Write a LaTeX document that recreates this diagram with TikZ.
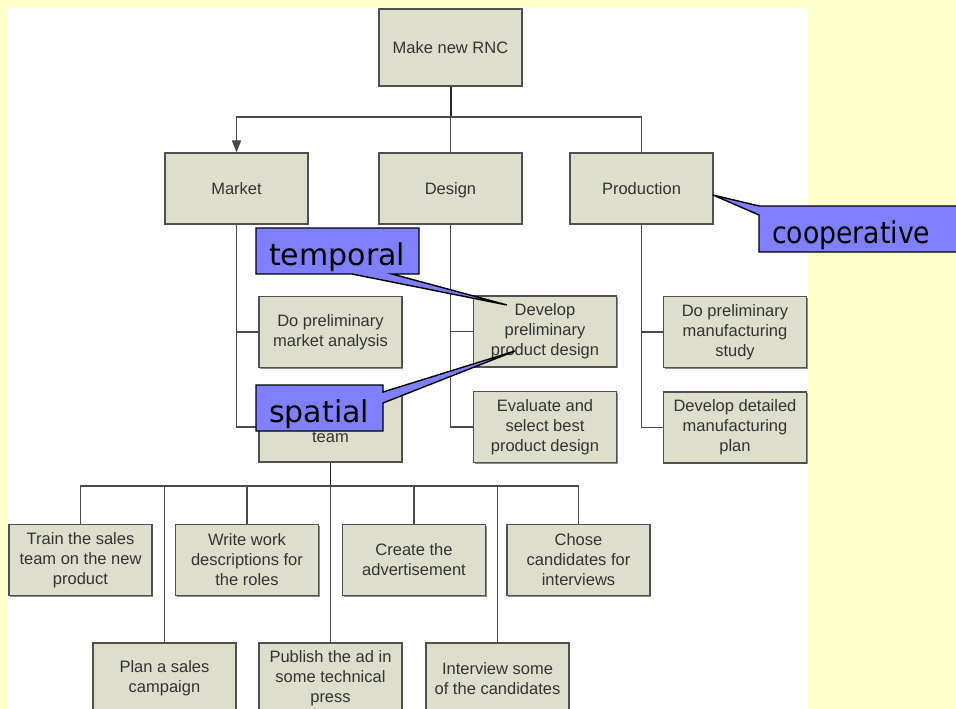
\documentclass[tikz,border=0pt]{standalone}
\usepackage{fontspec}
\usepackage{graphicx}
\setmainfont{Liberation Sans}
\newfontfamily\calloutfont{DejaVu Sans}
\usetikzlibrary{arrows.meta,shadows}

\definecolor{pagebg}{HTML}{FFFFCC}
\definecolor{boxfill}{HTML}{DDDECC}
\definecolor{boxline}{HTML}{505050}
\definecolor{boxtext}{HTML}{333333}
\definecolor{wirecol}{HTML}{4A4A4A}
\definecolor{callfill}{HTML}{8080FF}

\begin{document}
\begin{tikzpicture}[x=1pt,y=-1pt,
  task/.style={draw=boxline, line width=1.1pt, fill=boxfill,
    minimum width=143pt, minimum height=71pt, inner sep=0pt,
    align=center, text=boxtext, font=\fontsize{16.5}{20}\selectfont,
    drop shadow={shadow xshift=1.2pt, shadow yshift=-1.2pt, fill=black!45, opacity=1}},
  wire/.style={draw=wirecol, line width=1.5pt},
  trunk/.style={draw=black!85, line width=2pt},
  callout/.style={draw=black, line width=1.4pt, fill=callfill, line join=miter},
  calltext/.style={font=\calloutfont\fontsize{30}{36}\selectfont,
    anchor=base west, inner sep=0pt, text=black}]

% page and white sheet
\useasboundingbox (0,0) rectangle (956,709);
\fill[pagebg] (0,0) rectangle (956,709);
\fill[white] (8,8) rectangle (808,712);

% top levels
\node[task, minimum height=77pt] (root) at (450.5,47.5) {Make new RNC};
\node[task] (market) at (236.5,188.5) {Market};
\node[task, text depth=0pt] (design) at (450.5,188.5) {Design};
\node[task] (production) at (641.5,188.5) {Production};

% work packages
\node[task] (mkt1) at (330.5,332) {Do preliminary\\market analysis};
\node[task, minimum height=70pt] (team) at (330.5,427) {};
\node[text=boxtext, font=\fontsize{16.5}{20}\selectfont, anchor=base] (teamtxt) at (330.5,442) {team};
\node[task] (des1) at (545,331.5) {Develop\\preliminary\\product design};
\node[task] (des2) at (545,427) {Evaluate and\\select best\\product design};
\node[task] (prd1) at (735,332) {Do preliminary\\manufacturing\\study};
\node[task] (prd2) at (735,427.5) {Develop detailed\\manufacturing\\plan};

% activities
\node[task] (train) at (80.5,560) {Train the sales\\team on the new\\product};
\node[task] (write) at (247,560) {Write work\\descriptions for\\the roles};
\node[task] (create) at (414,560) {Create the\\advertisement};
\node[task] (chose) at (578.5,560) {Chose\\candidates for\\interviews};
\node[task] (plan) at (164.5,678.5) {Plan a sales\\campaign};
\node[task] (publish) at (330.5,678.5) {Publish the ad in\\some technical\\press};
\node[task] (interview) at (497.5,678.5) {Interview some\\of the candidates};

% bus junctions
\coordinate (bus1) at (450.5,117);
\coordinate (bus2) at (330.5,486);

% connectors
\draw[trunk] (root.south) -- (bus1);
\draw[wire, -{Triangle[length=12pt,width=9pt]}] (bus1) -| (market.north);
\draw[wire] (bus1) -- (design.north);
\draw[wire] (bus1) -| (production.north);

\draw[wire] (market.south) |- (mkt1.west);
\draw[wire] (market.south) |- (team.west);
\draw[wire] (design.south) |- (des1.west);
\draw[wire] (design.south) |- (des2.west);
\draw[wire] (production.south) |- (prd1.west);
\draw[wire] (production.south) |- (prd2.west);

\draw[trunk, line width=1.7pt] (team.south) -- (bus2);
\draw[wire] (bus2) -| (train.north);
\draw[wire] (bus2) -| (plan.north);
\draw[wire] (bus2) -| (write.north);
\draw[wire] (bus2) -- (publish.north);
\draw[wire] (bus2) -| (create.north);
\draw[wire] (bus2) -| (interview.north);
\draw[wire] (bus2) -| (chose.north);

% callouts
\draw[callout] (256,228) -- (419,228) -- (419,274) -- (392,274) -- (507,305)
  -- (352,274) -- (256,274) -- cycle;
\node[calltext] (temporal) at (269,265) {temporal};

\draw[callout] (256,385) -- (383,385) -- (383,392) -- (515,351) -- (383,403)
  -- (383,431) -- (256,431) -- cycle;
\node[calltext] (spatial) at (269,422) {spatial};

\draw[callout] (759,206) -- (962,206) -- (962,252) -- (759,252) -- (759,215)
  -- (713,195) -- cycle;
\node[calltext] (coop) at (772,243) {\scalebox{0.89}[1]{cooperative}};
\end{tikzpicture}
\end{document}
